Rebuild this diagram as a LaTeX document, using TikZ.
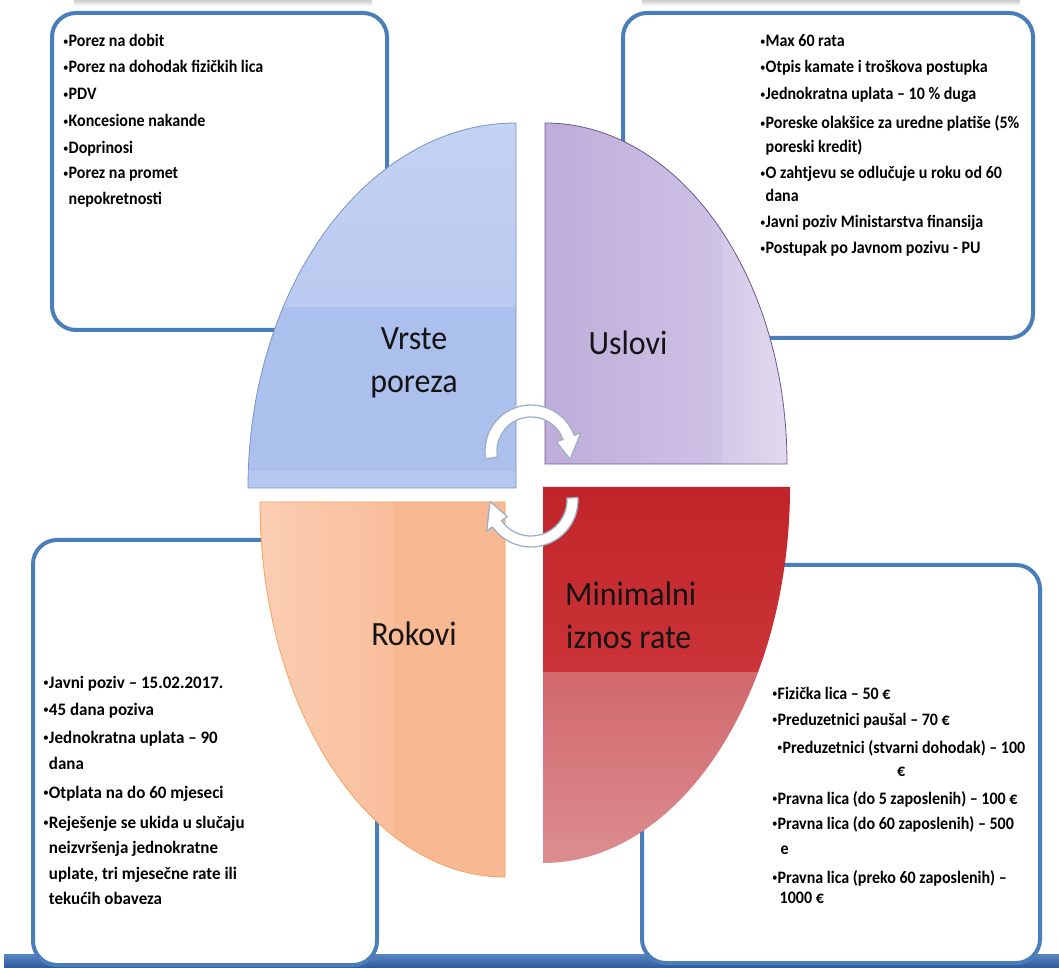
\documentclass[tikz,border=0pt]{standalone}
\usepackage{fontspec}
\setmainfont{Carlito}
\newfontfamily\listfont[FakeStretch=0.915]{Carlito}
\newfontfamily\listfontwide[FakeStretch=0.97]{Carlito}
\newfontfamily\labelfont[FakeStretch=0.94]{Carlito}
\newcommand{\mybul}{\raisebox{1.6pt}{\fontsize{12}{12}\selectfont\mdseries •}}
\definecolor{boxblue}{HTML}{4A7EBB}
\definecolor{barblueA}{HTML}{5A86C5}
\definecolor{barblueB}{HTML}{2F5C9E}
\definecolor{arrowgrey}{HTML}{9DB1C6}
\definecolor{bluelow}{RGB}{171,192,236}
\definecolor{bluestrip}{RGB}{182,200,239}
\definecolor{bluetopA}{RGB}{196,210,243}
\definecolor{bluetopB}{RGB}{186,202,240}
\definecolor{blueline}{RGB}{120,148,200}
\definecolor{purA}{RGB}{190,172,217}
\definecolor{purB}{RGB}{206,194,229}
\definecolor{purC}{RGB}{212,201,232}
\definecolor{purD}{RGB}{226,218,239}
\definecolor{purline}{RGB}{105,88,140}
\definecolor{redA}{RGB}{192,36,40}
\definecolor{redB}{RGB}{203,52,56}
\definecolor{redC}{RGB}{209,104,108}
\definecolor{redD}{RGB}{220,142,145}
\definecolor{oraA}{RGB}{251,206,180}
\definecolor{oraB}{RGB}{249,190,156}
\definecolor{oraC}{RGB}{248,184,146}
\definecolor{oraline}{RGB}{247,160,90}
\begin{document}
\begin{tikzpicture}[x=1pt,y=1pt]
\tikzset{
  infobox/.style={draw=boxblue, line width=4pt, rounded corners=24pt, fill=white,
    anchor=south west, outer sep=0pt, inner sep=0pt},
  item/.style={anchor=base west, inner sep=0pt, text=black,
    font=\listfont\bfseries\fontsize{17.5}{20}\selectfont},
  itemwide/.style={item, font=\listfontwide\bfseries\fontsize{17.5}{20}\selectfont},
  biglabel/.style={font=\labelfont\fontsize{34}{43}\selectfont, text=black!92,
    align=center, inner sep=0pt},
  arrowshape/.style={fill=white, draw=arrowgrey, line width=1.3pt, line join=round},
}
\useasboundingbox (0,0) rectangle (1059,967);
\fill[white] (0,0) rectangle (1059,967);
% faint shadows at the top edge
\shade[top color=gray!40, bottom color=white] (74,961) rectangle (372,967);
\shade[top color=gray!40, bottom color=white] (642,961) rectangle (1020,967);
% bottom bar
\shade[top color=barblueA, bottom color=barblueB] (4,0) rectangle (1059,13);

% boxes
\node[infobox, minimum width=335pt, minimum height=317pt] (tlbox) at (52,637) {};
\node[infobox, minimum width=410pt, minimum height=325pt] (trbox) at (623,629) {};
\node[infobox, minimum width=344pt, minimum height=425pt] (blbox) at (33,2) {};
\node[infobox, minimum width=398pt, minimum height=398pt] (brbox) at (642,4) {};

% texts in boxes
\foreach \y/\t [count=\i] in {
  41/{\mybul Porez na dobit},
  67/{\mybul Porez na dohodak fizičkih lica},
  94/{\mybul PDV},
  121/{\mybul Koncesione nakande},
  148/{\mybul Doprinosi},
  173/{\mybul Porez na promet},
  199/{\phantom{\mybul}nepokretnosti}}
  \node[item] (tl\i) at (63,{961-\y}) {\t};

\foreach \y/\t [count=\i] in {
  41/{\mybul Max 60 rata},
  67/{\mybul Otpis kamate i troškova postupka},
  94/{\mybul Jednokratna uplata – 10 \% duga},
  123/{\mybul Poreske olakšice za uredne platiše (5\%},
  147/{\phantom{\mybul}poreski kredit)},
  173/{\mybul O zahtjevu se odlučuje u roku od 60},
  196/{\phantom{\mybul}dana},
  222/{\mybul Javni poziv Ministarstva finansija},
  248/{\mybul Postupak po Javnom pozivu - PU}}
  \node[item] (tr\i) at (760,{961-\y}) {\t};

\foreach \y/\t [count=\i] in {
  682/{\mybul Javni poziv – 15.02.2017.},
  709/{\mybul 45 dana poziva},
  737/{\mybul Jednokratna uplata – 90},
  763/{\phantom{\mybul}dana},
  792/{\mybul Otplata na do 60 mjeseci},
  822/{\mybul Reješenje se ukida u slučaju},
  847/{\phantom{\mybul}neizvršenja jednokratne},
  873/{\phantom{\mybul}uplate, tri mjesečne rate ili},
  898/{\phantom{\mybul}tekućih obaveza}}
  \node[itemwide] (bl\i) at (43,{961-\y}) {\t};

\foreach \x/\y/\t [count=\i] in {
  772/693/{\mybul Fizička lica – 50 €},
  772/719/{\mybul Preduzetnici paušal – 70 €},
  777/747/{\mybul Preduzetnici (stvarni dohodak) – 100},
  897/770/{€},
  772/798/{\mybul Pravna lica (do 5 zaposlenih) – 100 €},
  772/823/{\mybul Pravna lica (do 60 zaposlenih) – 500},
  775/848/{\phantom{\mybul}e},
  772/877/{\mybul Pravna lica (preko 60 zaposlenih) –},
  774/897/{\phantom{\mybul}1000 €}}
  \node[item] (br\i) at (\x,{961-\y}) {\t};

% quadrant: Vrste poreza (blue)
\begin{scope}
  \clip (248,479) arc[start angle=180, end angle=90, x radius=268, y radius=365] -- (516,479) -- cycle;
  \fill[bluelow] (240,470) rectangle (520,660);
  \fill[bluestrip] (240,470) rectangle (520,496);
  \shade[top color=bluetopA, bottom color=bluetopB] (240,660) rectangle (520,850);
\end{scope}
\draw[blueline, line width=0.8pt]
  (248,479) arc[start angle=180, end angle=90, x radius=268, y radius=365] -- (516,479) -- cycle;

% quadrant: Uslovi (purple)
\begin{scope}
  \clip (545,503) -- (787,503) arc[start angle=0, end angle=90, x radius=242, y radius=341] -- cycle;
  \shade[left color=purA, right color=purB] (540,500) rectangle (722,850);
  \shade[left color=purC, right color=purD] (722,500) rectangle (790,850);
\end{scope}
\draw[purline, line width=0.8pt]
  (545,503) -- (787,503) arc[start angle=0, end angle=90, x radius=242, y radius=341] -- cycle;

% quadrant: Minimalni iznos rate (red)
\begin{scope}
  \clip (543,480) -- (790,480) arc[start angle=0, end angle=-90, x radius=247, y radius=376] -- cycle;
  \shade[top color=redA, bottom color=redB] (540,295) rectangle (795,485);
  \shade[top color=redC, bottom color=redD] (540,100) rectangle (795,295);
\end{scope}

% quadrant: Rokovi (orange)
\begin{scope}
  \clip (505,465) -- (260,465) arc[start angle=180, end angle=270, x radius=245, y radius=375] -- cycle;
  \shade[left color=oraA, right color=oraB] (255,85) rectangle (393,470);
  \fill[oraC] (393,85) rectangle (510,470);
\end{scope}
\draw[oraline, line width=0.8pt]
  (505,465) -- (260,465) arc[start angle=180, end angle=270, x radius=245, y radius=375] -- cycle;

% labels
\node[biglabel] (vrste) at (414,604) {Vrste\\poreza};
\node[biglabel, anchor=base] (uslovi) at (628,612) {Uslovi};
\node[biglabel, anchor=base] (rokovi) at (414,322) {Rokovi};
\node[biglabel, align=left, anchor=base west] (mini) at (565,362) {Minimalni};
\node[biglabel, align=left, anchor=base west] (iznos) at (566,319) {iznos rate};

% circular arrows
\begin{scope}[shift={(531,516)}]
  \filldraw[arrowshape] (190:46) arc[start angle=190, end angle=20, radius=46]
    -- (20:53) -- (-12:40) -- (20:27) -- (20:34)
    arc[start angle=20, end angle=190, radius=34] -- cycle;
\end{scope}
\begin{scope}[shift={(531,467)}]
  \filldraw[arrowshape] (3:47) arc[start angle=3, end angle=-145, radius=47]
    -- (-145:54) -- (-178:41) -- (-145:29) -- (-145:36)
    arc[start angle=-145, end angle=3, radius=36] -- cycle;
\end{scope}
\end{tikzpicture}
\end{document}
